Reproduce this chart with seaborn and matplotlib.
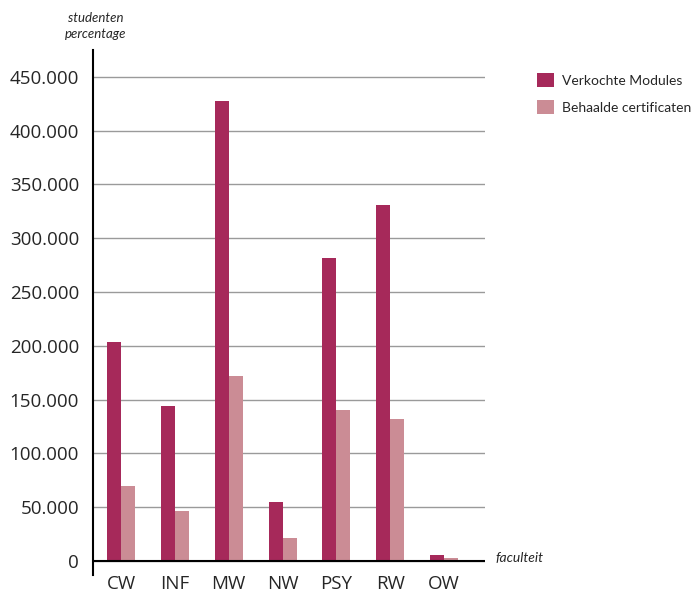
import pandas as pd
import matplotlib.pyplot as plt
import seaborn as sns
from matplotlib.ticker import FuncFormatter

faculteiten = ["CW", "INF", "MW", "NW", "PSY", "RW", "OW"]
verkochte_modules = [204000, 144000, 428000, 55000, 282000, 331000, 5500]
behaalde_certificaten = [70000, 46500, 172000, 21500, 140500, 132000, 2500]
reeksen = ["Verkochte Modules", "Behaalde certificaten"]
kleuren = ["#A6295A", "#CB8C95"]

df = pd.DataFrame({
    "faculteit": faculteiten * 2,
    "reeks": [reeksen[0]] * len(faculteiten) + [reeksen[1]] * len(faculteiten),
    "waarde": verkochte_modules + behaalde_certificaten,
})

sns.set_style("white")
plt.rcParams["font.family"] = ["Open Sans", "DejaVu Sans"]

fig = plt.figure(figsize=(6.92, 5.94), dpi=100)
ax = fig.add_axes([93 / 692, 19 / 594, 392 / 692, 525 / 594])

sns.barplot(data=df, x="faculteit", y="waarde", hue="reeks",
            palette=kleuren, width=0.52, saturation=1, ax=ax,
            edgecolor="none", linewidth=0)

ax.set_xlim(-0.52, 6.76)
ax.set_ylim(-13000, 475000)
ax.set_yticks(range(0, 450001, 50000))
ax.yaxis.set_major_formatter(FuncFormatter(lambda v, p: f"{v:,.0f}".replace(",", ".")))

ax.grid(axis="y", color="#9a9a9a", linewidth=1)
ax.set_axisbelow(True)
ax.axhline(0, color="black", linewidth=1.5, zorder=1)
for s in ["top", "right", "bottom"]:
    ax.spines[s].set_visible(False)
ax.spines["left"].set_color("black")
ax.spines["left"].set_linewidth(1.5)

ax.tick_params(axis="y", length=5, color="#9a9a9a", labelsize=13.5, pad=5)
ax.tick_params(axis="x", length=0, labelsize=13.5, pad=0)
ax.set_xlabel("")
ax.set_ylabel("")

fig.text(96 / 692, 1 - 26 / 594, "studenten\npercentage", ha="center", va="center",
         style="italic", fontsize=9.5, linespacing=1.3, family=["Lato", "DejaVu Sans"])
fig.text(495 / 692, 1 - 558 / 594, "faculteit", ha="left", va="center",
         style="italic", fontsize=10, family=["Lato", "DejaVu Sans"])

ax.legend(loc="upper left", bbox_to_anchor=(537 / 692, 1 - 73 / 594),
          bbox_transform=fig.transFigure, frameon=False,
          prop={"family": ["Lato", "DejaVu Sans"], "size": 10},
          handlelength=1.2, handleheight=1.2, handletextpad=0.6, labelspacing=0.9,
          borderaxespad=0, borderpad=0, title=None)

fig.savefig("out.png", dpi=100)
